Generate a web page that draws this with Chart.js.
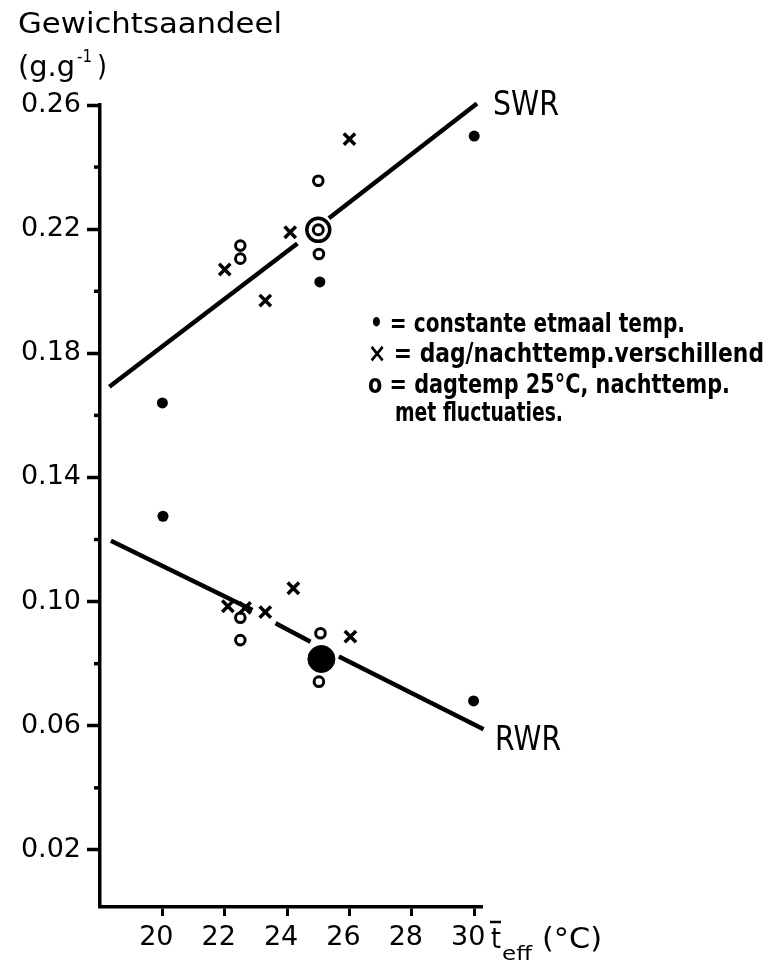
<!DOCTYPE html>
<html>
<head>
<meta charset="utf-8">
<script src="https://cdn.jsdelivr.net/npm/chart.js@4.4.1/dist/chart.umd.min.js"></script>
<style>
  html, body { margin: 0; padding: 0; background: #fff; }
  canvas { display: block; }
</style>
</head>
<body>
<canvas id="c" width="770" height="964"></canvas>
<script>
// ---- tick labels ----
const xTicks = [20, 22, 24, 26, 28, 30];
const yTicks = [0.02, 0.06, 0.10, 0.14, 0.18, 0.22, 0.26];
const yMinorTicks = [0.04, 0.08, 0.12, 0.16, 0.20, 0.24];

// ---- SWR (shoot weight ratio) ----
const swrConstant = [{x: 20, y: 0.164}, {x: 25.05, y: 0.203}, {x: 30, y: 0.250}];
const swrDayNight = [{x: 22, y: 0.207}, {x: 23.3, y: 0.197}, {x: 24.1, y: 0.219}, {x: 26, y: 0.249}];
const swrFluct = [{x: 22.5, y: 0.2147}, {x: 22.5, y: 0.2105}, {x: 25, y: 0.2356}, {x: 25.02, y: 0.212}];
const swrFluctMain = [{x: 25, y: 0.2198}];
const swrLine = [{x: 18.3, y: 0.1692}, {x: 24.33, y: 0.2154}, {x: 24.85, y: null}, {x: 25.34, y: 0.2235}, {x: 30.09, y: 0.2605}];

// ---- RWR (root weight ratio) ----
const rwrConstant = [{x: 20.02, y: 0.1275}, {x: 29.98, y: 0.068}];
const rwrDayNight = [{x: 22.1, y: 0.0985}, {x: 22.65, y: 0.098}, {x: 23.3, y: 0.0966}, {x: 24.2, y: 0.1043}, {x: 26.03, y: 0.0887}];
const rwrFluct = [{x: 22.5, y: 0.0948}, {x: 22.5, y: 0.0876}, {x: 25.07, y: 0.0898}, {x: 25.02, y: 0.0742}];
const rwrFluctMain = [{x: 25.1, y: 0.0815}];
const rwrLine = [{x: 18.35, y: 0.1196}, {x: 22.89, y: 0.0973}, {x: 23.25, y: null}, {x: 23.63, y: 0.093}, {x: 24.75, y: 0.0871}, {x: 25.2, y: null}, {x: 25.66, y: 0.0823}, {x: 30.3, y: 0.0589}];

const FONT = '"DejaVu Sans", "Liberation Sans", sans-serif';
const LFONT = '"DejaVu Sans Condensed", "DejaVu Sans", sans-serif';
const BLACK = '#000';

function fitText(ctx, text, x, y, font, width) {
  ctx.font = font;
  const w = ctx.measureText(text).width;
  ctx.save();
  ctx.translate(x, y);
  if (width) ctx.scale(width / w, 1);
  ctx.fillText(text, 0, 0);
  ctx.restore();
}

const annotations = {
  id: 'annotations',
  afterDraw(chart) {
    const ctx = chart.ctx;
    const ys = chart.scales.y;
    const left = chart.chartArea.left;
    ctx.save();
    // minor y ticks
    ctx.strokeStyle = BLACK;
    ctx.lineWidth = 3.5;
    yMinorTicks.forEach(v => {
      const py = ys.getPixelForValue(v);
      ctx.beginPath();
      ctx.moveTo(left - 6, py);
      ctx.lineTo(left, py);
      ctx.stroke();
    });
    ctx.fillStyle = BLACK;
    ctx.textBaseline = 'alphabetic';
    ctx.textAlign = 'left';
    // y axis title
    fitText(ctx, 'Gewichtsaandeel', 18, 33, '29px ' + FONT, 264);
    fitText(ctx, '(g.g', 18, 76, '29px ' + FONT, 57);
    fitText(ctx, '-1', 77, 62, '18px ' + FONT, 15);
    fitText(ctx, ')', 97, 76, '29px ' + FONT, 10);
    // series labels
    fitText(ctx, 'SWR', 493, 115, '33px ' + FONT, 66);
    fitText(ctx, 'RWR', 495, 750, '33px ' + FONT, 66);
    // legend
    fitText(ctx, '\u2022 = constante etmaal temp.', 370, 332, 'bold 26px ' + LFONT, 315);
    fitText(ctx, '\u00d7 = dag/nachttemp.verschillend', 368, 362, 'bold 26px ' + LFONT, 396);
    fitText(ctx, 'o = dagtemp 25\u00b0C, nachttemp.', 368, 393, 'bold 26px ' + LFONT, 362);
    fitText(ctx, 'met fluctuaties.', 395, 421, 'bold 26px ' + LFONT, 168);
    // x axis title  t̄eff (°C)
    fitText(ctx, 't', 491, 948, '29px ' + FONT, 10);
    ctx.lineWidth = 2.5;
    ctx.beginPath();
    ctx.moveTo(490, 922);
    ctx.lineTo(501, 922);
    ctx.stroke();
    fitText(ctx, 'eff', 502, 960, '20px ' + FONT, 30);
    fitText(ctx, '(\u00b0C)', 542, 948, '29px ' + FONT, 60);
    ctx.restore();
  }
};

const ptBase = { showLine: false, borderColor: BLACK, pointBorderColor: BLACK };

new Chart(document.getElementById('c'), {
  type: 'scatter',
  data: {
    datasets: [
      Object.assign({}, ptBase, { label: 'swrFluctInner', data: swrFluctMain, pointStyle: 'circle', pointRadius: 5, pointBorderWidth: 3, pointBackgroundColor: '#fff', order: 0 }),
      Object.assign({}, ptBase, { label: 'swrFluctOuter', data: swrFluctMain, pointStyle: 'circle', pointRadius: 11.5, pointBorderWidth: 3.5, pointBackgroundColor: '#fff', order: 1 }),
      Object.assign({}, ptBase, { label: 'rwrFluctMain', data: rwrFluctMain, pointStyle: 'circle', pointRadius: 13.5, pointBorderWidth: 1, pointBackgroundColor: BLACK, order: 1 }),
      Object.assign({}, ptBase, { label: 'swrConstant', data: swrConstant, pointStyle: 'circle', pointRadius: 5.5, pointBorderWidth: 0, pointBackgroundColor: BLACK, order: 2 }),
      Object.assign({}, ptBase, { label: 'rwrConstant', data: rwrConstant, pointStyle: 'circle', pointRadius: 5.5, pointBorderWidth: 0, pointBackgroundColor: BLACK, order: 2 }),
      Object.assign({}, ptBase, { label: 'swrDayNight', data: swrDayNight, pointStyle: 'crossRot', pointRadius: 8, pointBorderWidth: 3.5, order: 2 }),
      Object.assign({}, ptBase, { label: 'rwrDayNight', data: rwrDayNight, pointStyle: 'crossRot', pointRadius: 8, pointBorderWidth: 3.5, order: 2 }),
      Object.assign({}, ptBase, { label: 'swrFluct', data: swrFluct, pointStyle: 'circle', pointRadius: 4.8, pointBorderWidth: 3, pointBackgroundColor: '#fff', order: 2 }),
      Object.assign({}, ptBase, { label: 'rwrFluct', data: rwrFluct, pointStyle: 'circle', pointRadius: 4.8, pointBorderWidth: 3, pointBackgroundColor: '#fff', order: 2 }),
      { label: 'SWR', data: swrLine, showLine: true, spanGaps: false, borderColor: BLACK, borderWidth: 4.5, pointRadius: 0, clip: false, order: 5 },
      { label: 'RWR', data: rwrLine, showLine: true, spanGaps: false, borderColor: BLACK, borderWidth: 4.5, pointRadius: 0, clip: false, order: 5 }
    ]
  },
  options: {
    responsive: false,
    animation: false,
    devicePixelRatio: 1,
    layout: { padding: { left: 0, top: 105, right: 288, bottom: 0 } },
    plugins: { legend: { display: false }, tooltip: { enabled: false } },
    scales: {
      x: {
        type: 'linear', min: 18, max: 30.25,
        afterBuildTicks: s => { s.ticks = xTicks.map(v => ({ value: v })); },
        afterFit: s => { s.height = 57; },
        border: { display: true, color: BLACK, width: 3.5 },
        grid: { display: true, drawOnChartArea: false, drawTicks: true, tickLength: 9, tickWidth: 3, tickColor: BLACK, color: BLACK },
        ticks: { color: BLACK, font: { family: FONT, size: 27 }, padding: 6, labelOffset: -6, maxRotation: 0, autoSkip: false, callback: v => String(v) }
      },
      y: {
        type: 'linear', min: 0.0016, max: 0.26,
        afterBuildTicks: s => { s.ticks = yTicks.map(v => ({ value: v })); },
        afterFit: s => { s.width = 100; },
        border: { display: true, color: BLACK, width: 3.5 },
        grid: { display: true, drawOnChartArea: false, drawTicks: true, tickLength: 13, tickWidth: 3.5, tickColor: BLACK, color: BLACK },
        ticks: { color: BLACK, font: { family: FONT, size: 27 }, padding: 6, autoSkip: false, callback: v => v.toFixed(2) }
      }
    }
  },
  plugins: [annotations]
});
</script>
</body>
</html>
